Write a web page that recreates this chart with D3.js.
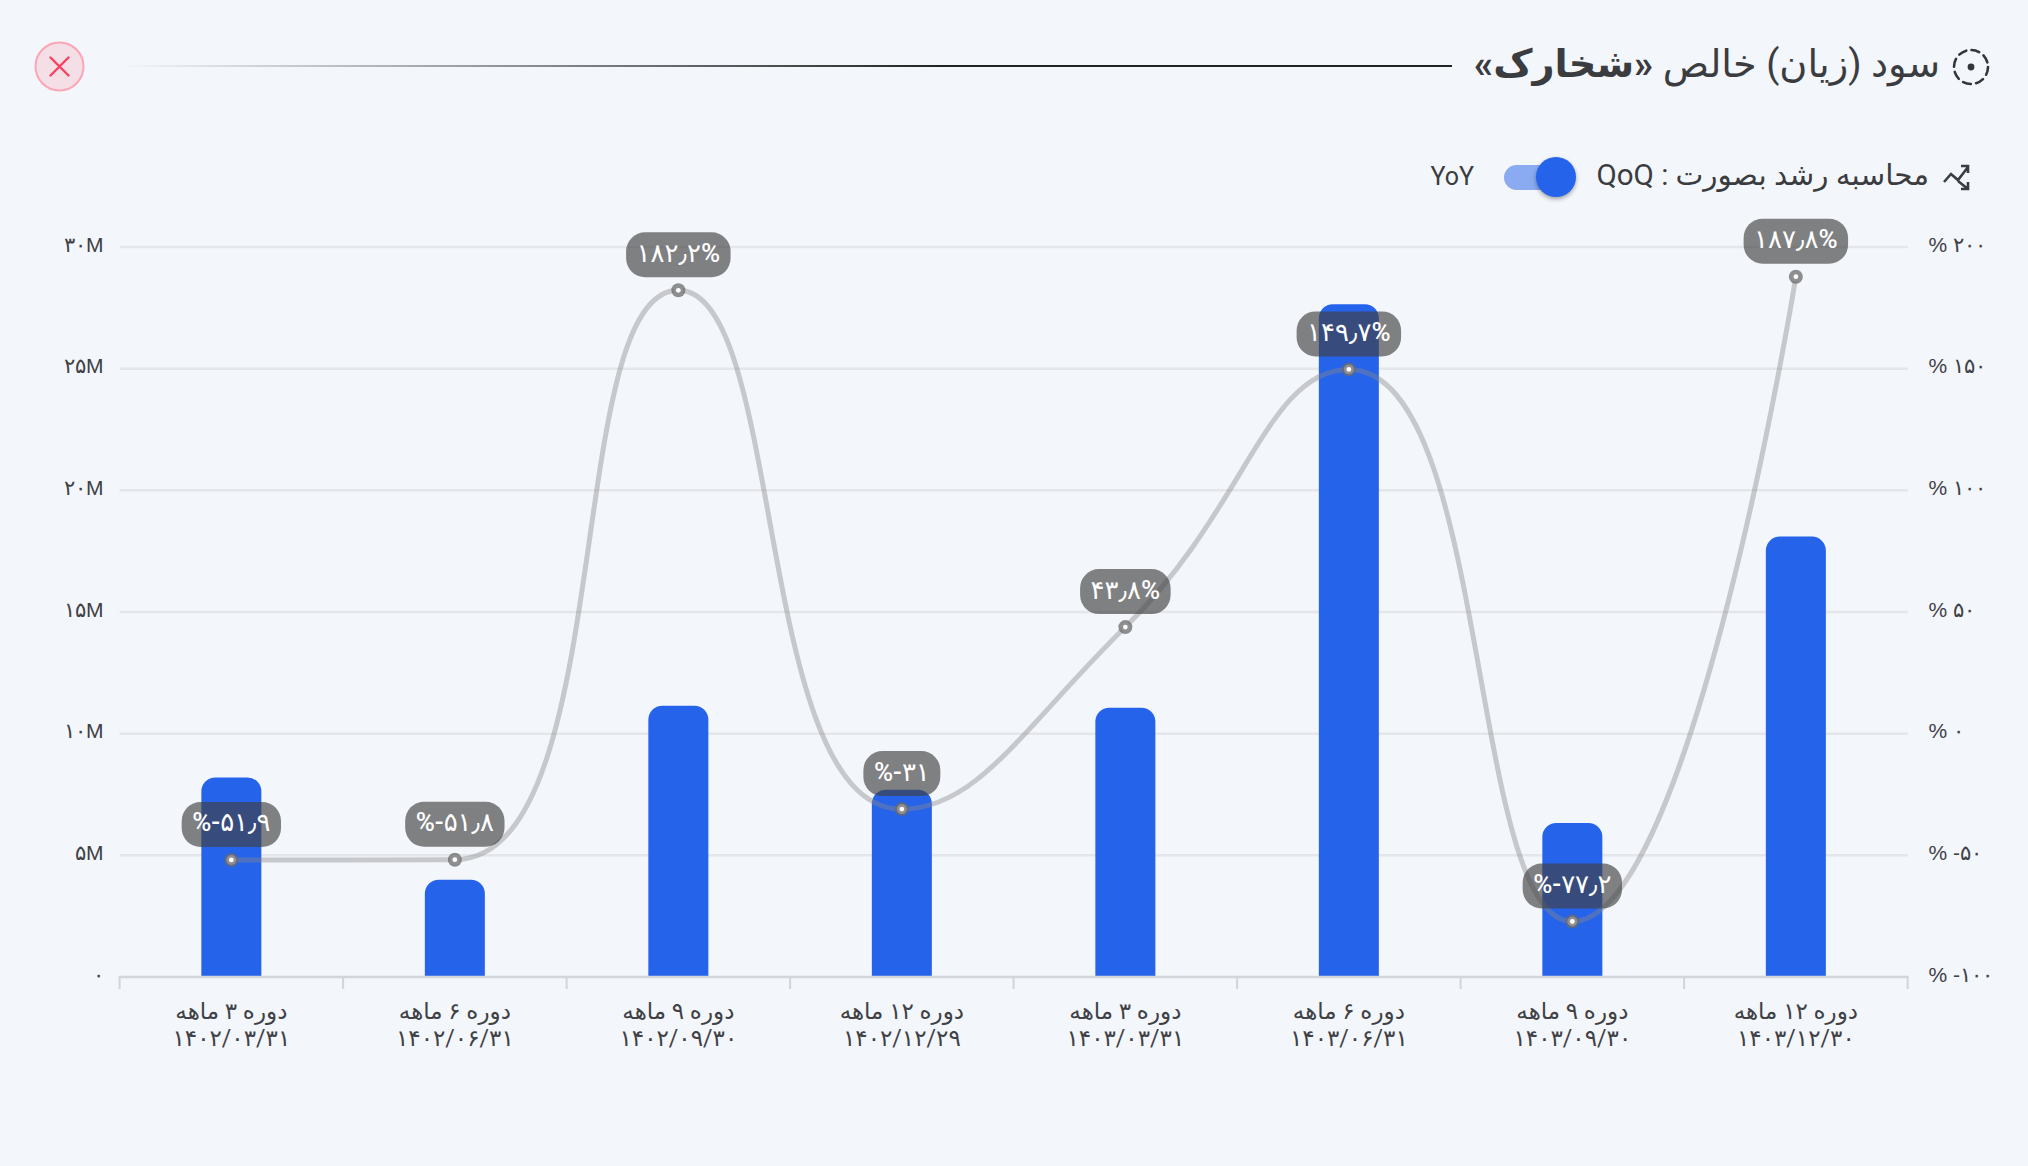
<!DOCTYPE html>
<html lang="fa">
<head>
<meta charset="utf-8">
<script src="https://cdn.jsdelivr.net/npm/d3@7"></script>
<style>
  html, body { margin: 0; padding: 0; background: #f3f6fb; }
  svg { display: block; font-family: Roboto, "DejaVu Sans", sans-serif; }
  .axis-label { fill: #3f4145; font-size: 21px; }
  .x-label { fill: #3f4145; font-size: 23px; }
  .x-label .date { letter-spacing: 0.8px; }
</style>
</head>
<body>
<div id="chart"></div>
<script>
const periods = ["دوره ۳ ماهه", "دوره ۶ ماهه", "دوره ۹ ماهه", "دوره ۱۲ ماهه", "دوره ۳ ماهه", "دوره ۶ ماهه", "دوره ۹ ماهه", "دوره ۱۲ ماهه"];
const dates = ["۱۴۰۲/۰۳/۳۱", "۱۴۰۲/۰۶/۳۱", "۱۴۰۲/۰۹/۳۰", "۱۴۰۲/۱۲/۲۹", "۱۴۰۳/۰۳/۳۱", "۱۴۰۳/۰۶/۳۱", "۱۴۰۳/۰۹/۳۰", "۱۴۰۳/۱۲/۳۰"];
const profit = [8.2, 4.0, 11.15, 7.7, 11.07, 27.65, 6.33, 18.1]; // million
const growth = [-51.9, -51.8, 182.2, -31, 43.8, 149.7, -77.2, 187.8]; // percent
const profitTicks = [0, 5, 10, 15, 20, 25, 30];
const growthTicks = [-100, -50, 0, 50, 100, 150, 200];

const width = 2028;
const height = 1166;
const plotLeft = 119.6;
const plotRight = 1907.6;
const plotTop = 247;
const plotBottom = 977;
const barWidth = 60;
const barRadius = 14;
const smooth = 0.5;

const toFa = (v) =>
  String(v).replace(/\d/g, (c) => "۰۱۲۳۴۵۶۷۸۹"[+c]).replace(".", "٫");

// smoothing with handles clamped to neighbouring points, so peaks stay on the data
function clampedCurve(context) {
  let pts;
  const clamp = (v, a, b) => Math.max(Math.min(a, b), Math.min(v, Math.max(a, b)));
  return {
    lineStart() {
      pts = [];
    },
    point(x, y) {
      pts.push([+x, +y]);
    },
    lineEnd() {
      context.moveTo(pts[0][0], pts[0][1]);
      let cx0 = pts[0][0];
      let cy0 = pts[0][1];
      for (let i = 1; i < pts.length; i++) {
        const [x, y] = pts[i];
        const [px, py] = pts[i - 1];
        let cx1 = x;
        let cy1 = y;
        let nx0 = x;
        let ny0 = y;
        if (i < pts.length - 1) {
          const [nx, ny] = pts[i + 1];
          const lenPrev = Math.hypot(x - px, y - py);
          const lenNext = Math.hypot(nx - x, ny - y);
          const ratio = lenNext / (lenPrev + lenNext);
          nx0 = clamp(x + (nx - px) * smooth * ratio, nx, x);
          ny0 = clamp(y + (ny - py) * smooth * ratio, ny, y);
          cx1 = clamp(x - ((nx0 - x) * lenPrev) / lenNext, px, x);
          cy1 = clamp(y - ((ny0 - y) * lenPrev) / lenNext, py, y);
          nx0 = x + ((x - cx1) * lenNext) / lenPrev;
          ny0 = y + ((y - cy1) * lenNext) / lenPrev;
        }
        context.bezierCurveTo(cx0, cy0, cx1, cy1, x, y);
        cx0 = nx0;
        cy0 = ny0;
      }
    },
  };
}

const svg = d3
  .select("#chart")
  .append("svg")
  .attr("width", width)
  .attr("height", height)
  .attr("viewBox", [0, 0, width, height]);

const x = d3.scaleBand().domain(d3.range(periods.length)).range([plotLeft, plotRight]);
const yProfit = d3.scaleLinear().domain([0, 30]).range([plotBottom, plotTop]);
const yGrowth = d3.scaleLinear().domain([-100, 200]).range([plotBottom, plotTop]);
const cx = (i) => x(i) + x.bandwidth() / 2;

// header
const defs = svg.append("defs");
const fade = defs
  .append("linearGradient")
  .attr("id", "fade")
  .attr("gradientUnits", "userSpaceOnUse")
  .attr("x1", 120)
  .attr("x2", 1452)
  .attr("y1", 0)
  .attr("y2", 0);
fade.append("stop").attr("offset", 0).attr("stop-color", "#222").attr("stop-opacity", 0);
fade.append("stop").attr("offset", 0.62).attr("stop-color", "#222").attr("stop-opacity", 1);
fade.append("stop").attr("offset", 1).attr("stop-color", "#222").attr("stop-opacity", 1);

svg.append("rect").attr("x", 120).attr("y", 65).attr("width", 1332).attr("height", 2).attr("fill", "url(#fade)");

const close = svg.append("g").attr("transform", "translate(59.5,66.5)");
close.append("circle").attr("r", 24).attr("fill", "#f5dfe6").attr("stroke", "#fca5b5").attr("stroke-width", 2);
close
  .append("path")
  .attr("d", "M-9,-9L9,9M9,-9L-9,9")
  .attr("stroke", "#f9415f")
  .attr("stroke-width", 2.4)
  .attr("stroke-linecap", "round");

const titleIcon = svg.append("g").attr("transform", "translate(1971,67)").attr("fill", "none");
titleIcon
  .append("circle")
  .attr("r", 17)
  .attr("stroke", "#33363b")
  .attr("stroke-width", 2.6)
  .attr("stroke-dasharray", "8 5.35")
  .attr("stroke-linecap", "round");
titleIcon.append("circle").attr("r", 3.4).attr("fill", "#33363b");

const title = svg
  .append("text")
  .attr("x", 1940)
  .attr("y", 77)
  .attr("direction", "rtl")
  .attr("text-anchor", "start")
  .attr("fill", "#3a3c40")
  .attr("font-size", 38.3);
title.append("tspan").text("سود (زیان) خالص ");
title.append("tspan").attr("font-weight", 700).text("«شخارک»");

// growth basis switch
const trendIcon = svg
  .append("g")
  .attr("transform", "translate(1956,177)")
  .attr("fill", "none")
  .attr("stroke", "#3a3c40")
  .attr("stroke-width", 2.6);
trendIcon.append("path").attr("d", "M-12,5L-5,-3L2,3L12,-10M5,-11H12V-4");
trendIcon.append("path").attr("d", "M2,4L12,12M5,12H12V5");

svg
  .append("text")
  .attr("x", 1929)
  .attr("y", 185)
  .attr("direction", "rtl")
  .attr("text-anchor", "start")
  .attr("fill", "#3a3c40")
  .attr("font-size", 29.5)
  .text("محاسبه رشد بصورت : QoQ");

svg.append("rect").attr("x", 1504).attr("y", 165).attr("width", 56).attr("height", 25).attr("rx", 12.5).attr("fill", "#8aaaf2");
svg
  .append("circle")
  .attr("cx", 1556)
  .attr("cy", 177)
  .attr("r", 20)
  .attr("fill", "#2563eb")
  .style("filter", "drop-shadow(0 2px 2px rgba(0,0,0,.35))");

svg.append("text").attr("x", 1474).attr("y", 185).attr("text-anchor", "end").attr("fill", "#3a3c40").attr("font-size", 25).text("YoY");

// grid
svg
  .append("g")
  .selectAll("line")
  .data(profitTicks.slice(1))
  .join("line")
  .attr("x1", plotLeft)
  .attr("x2", plotRight)
  .attr("y1", (d) => yProfit(d))
  .attr("y2", (d) => yProfit(d))
  .attr("stroke", "#e4e6ea")
  .attr("stroke-width", 2.5);

// bars
svg
  .append("g")
  .selectAll("path")
  .data(profit)
  .join("path")
  .attr("fill", "#2563eb")
  .attr("d", (d, i) => {
    const p = d3.path();
    const left = cx(i) - barWidth / 2;
    const top = yProfit(d);
    p.moveTo(left, plotBottom);
    p.lineTo(left, top + barRadius);
    p.arcTo(left, top, left + barRadius, top, barRadius);
    p.lineTo(left + barWidth - barRadius, top);
    p.arcTo(left + barWidth, top, left + barWidth, top + barRadius, barRadius);
    p.lineTo(left + barWidth, plotBottom);
    p.closePath();
    return p.toString();
  });

// axes
const leftAxis = svg
  .append("g")
  .attr("transform", `translate(${plotLeft},0)`)
  .call(
    d3
      .axisLeft(yProfit)
      .tickValues(profitTicks)
      .tickSize(0)
      .tickPadding(16)
      .tickFormat((d) => (d ? toFa(d) + "M" : toFa(d)))
  );
leftAxis.select(".domain").remove();
leftAxis.selectAll("text").attr("class", "axis-label").attr("direction", "ltr").attr("dy", "0.2em");

const rightAxis = svg
  .append("g")
  .attr("transform", `translate(${plotRight},0)`)
  .call(
    d3
      .axisRight(yGrowth)
      .tickValues(growthTicks)
      .tickSize(0)
      .tickPadding(21)
      .tickFormat((d) => "% " + toFa(d))
  );
rightAxis.select(".domain").remove();
rightAxis.selectAll("text").attr("class", "axis-label").attr("direction", "ltr").attr("dy", "0.2em");

svg
  .append("line")
  .attr("x1", plotLeft - 1)
  .attr("x2", plotRight + 1)
  .attr("y1", plotBottom)
  .attr("y2", plotBottom)
  .attr("stroke", "#d3d5d9")
  .attr("stroke-width", 2.5);

svg
  .append("g")
  .selectAll("line")
  .data(d3.range(periods.length + 1))
  .join("line")
  .attr("x1", (i) => plotLeft + i * x.step())
  .attr("x2", (i) => plotLeft + i * x.step())
  .attr("y1", plotBottom)
  .attr("y2", plotBottom + 12)
  .attr("stroke", "#d3d5d9")
  .attr("stroke-width", 2);

const xLabels = svg.append("g").attr("class", "x-label").attr("text-anchor", "middle");
xLabels
  .selectAll(".period")
  .data(periods)
  .join("text")
  .attr("class", "period")
  .attr("x", (d, i) => cx(i))
  .attr("y", 1019)
  .attr("direction", "rtl")
  .text((d) => d);
xLabels
  .selectAll(".date")
  .data(dates)
  .join("text")
  .attr("class", "date")
  .attr("x", (d, i) => cx(i))
  .attr("y", 1046)
  .attr("direction", "ltr")
  .text((d) => d);

// growth line
const line = d3
  .line()
  .x((d, i) => cx(i))
  .y((d) => yGrowth(d))
  .curve(clampedCurve);

svg
  .append("path")
  .datum(growth)
  .attr("d", line)
  .attr("fill", "none")
  .attr("stroke", "rgba(135,135,135,.42)")
  .attr("stroke-width", 5);

const points = svg.append("g");
points
  .selectAll(".outer")
  .data(growth)
  .join("circle")
  .attr("class", "outer")
  .attr("cx", (d, i) => cx(i))
  .attr("cy", (d) => yGrowth(d))
  .attr("r", 7)
  .attr("fill", "rgba(105,105,105,.75)");
points
  .selectAll(".mid")
  .data(growth)
  .join("circle")
  .attr("class", "mid")
  .attr("cx", (d, i) => cx(i))
  .attr("cy", (d) => yGrowth(d))
  .attr("r", 5)
  .attr("fill", "#8f8f8f");
points
  .selectAll(".inner")
  .data(growth)
  .join("circle")
  .attr("class", "inner")
  .attr("cx", (d, i) => cx(i))
  .attr("cy", (d) => yGrowth(d))
  .attr("r", 2.4)
  .attr("fill", "#fff");

// value pills
const pills = svg
  .append("g")
  .selectAll("g")
  .data(growth)
  .join("g")
  .attr("transform", (d, i) => `translate(${cx(i)},${yGrowth(d) - 35.5})`);

const pillRect = pills.append("rect").attr("fill", "rgba(65,65,65,.65)");
const pillText = pills
  .append("text")
  .attr("text-anchor", "middle")
  .attr("direction", "ltr")
  .attr("y", 7)
  .attr("fill", "#fff")
  .attr("font-size", 26)
  .attr("font-weight", 500)
  .text((d) => (d < 0 ? "%-" + toFa(-d) : toFa(d) + "%"));

pillText.each(function (d, i) {
  const w = this.getComputedTextLength() + 21;
  d3.select(pillRect.nodes()[i])
    .attr("x", -w / 2)
    .attr("y", -22.5)
    .attr("width", w)
    .attr("height", 45)
    .attr("rx", 19);
});
</script>
</body>
</html>
